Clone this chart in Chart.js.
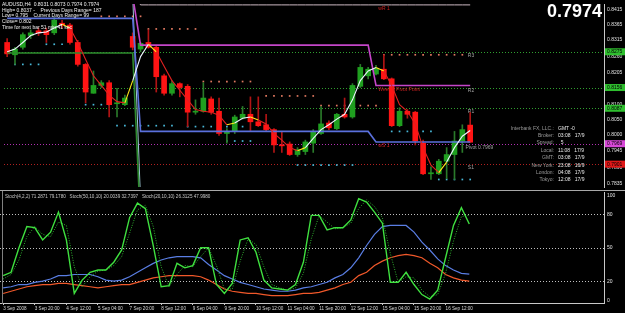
<!DOCTYPE html>
<html>
<head>
<meta charset="utf-8">
<title>AUDUSD,H4</title>
<script src="https://cdn.jsdelivr.net/npm/chart.js@4.4.1/dist/chart.umd.min.js"></script>
<style>
  html, body { margin: 0; padding: 0; background: #000; }
  body { width: 625px; height: 313px; overflow: hidden; position: relative; font-family: "Liberation Sans", Arial, sans-serif; }
  canvas { position: absolute; left: 0; }
  #priceChart { top: 0; }
  #stochChart { top: 191px; }
  .sep { position: absolute; left: 0; top: 190px; width: 625px; height: 1px; background: #a8a8a8; }
  .leftEdge { position: absolute; left: 2px; top: 191px; width: 1px; height: 113px; background: #808080; }
  .info { position: absolute; white-space: pre; color: #f0f0f0; font-size: 5px; line-height: 5.7px; }
  .bigPrice { position: absolute; left: 547px; top: 2px; color: #fff; font: bold 18px "Liberation Sans", Arial, sans-serif; line-height: 18px; }
  .clockLbl { position: absolute; left: 470px; width: 84px; text-align: right; white-space: pre; color: #9a9a9a; font-size: 5px; line-height: 7.4px; }
  .clockVal { position: absolute; left: 558px; white-space: pre; color: #e8e8e8; font-size: 5px; line-height: 7.4px; }
  .stochHead { position: absolute; left: 5px; top: 194px; white-space: pre; color: #c8c8c8; font-size: 4.6px; }
</style>
</head>
<body>
<canvas id="priceChart" width="625" height="191"></canvas>
<canvas id="stochChart" width="625" height="122"></canvas>
<div class="sep"></div>
<div class="leftEdge"></div>

<div class="info" style="left:2px;top:2px">AUDUSD,H4  0.8031 0.8073 0.7974 0.7974
High= 0.8037 -    Previous Days Range= 187
Low= 0.795    Current Days Range= 99
Close= 0.802
Time for next bar 51 min 41 sec</div>
<div class="bigPrice">0.7974</div>

<div class="clockLbl" style="top:124.5px">Interbank FX, LLC.:
Broker:
Spread:
Local:
GMT:
New York:
London:
Tokyo:</div>
<div class="clockVal" style="top:124.5px">GMT -0
03:08   17/9
  5
11:08   17/9
03:08   17/9
23:08   16/9
04:08   17/9
12:08   17/9</div>

<div class="stochHead">Stoch(4,2,2) 71.2871 79.1780   Stoch(50,10,10) 20.0039 32.7397   Stoch(20,10,10) 26.3125 47.9980</div>

<script>
// H4 candles, 3 Sep 04:00 .. 17 Sep 00:00
const opens  = [0.8306,0.8265,0.8290,0.8329,0.8345,0.8345,0.8338,0.8370,0.8364,0.8306,
                0.8233,0.8137,0.8163,0.8172,0.8102,0.8099,0.8326,0.8284,0.8306,0.8290,
                0.8195,0.8137,0.8169,0.8160,0.8074,0.8077,0.8118,0.8077,0.8003,0.8010,
                0.8054,0.8067,0.8042,0.8032,0.8016,0.7965,0.7968,0.7933,0.7943,0.7971,
                0.8003,0.8038,0.8019,0.8067,0.8058,0.8160,0.8195,0.8201,0.8217,0.8185,
                0.8029,0.8077,0.8074,0.7971,0.7869,0.7869,0.7911,0.7933,0.7978,0.8031];
const highs  = [0.8319,0.8290,0.8338,0.8348,0.8354,0.8354,0.8389,0.8380,0.8370,0.8313,
                0.8236,0.8211,0.8179,0.8179,0.8153,0.8131,0.8338,0.8306,0.8348,0.8294,
                0.8201,0.8179,0.8172,0.8166,0.8115,0.8172,0.8125,0.8121,0.8019,0.8064,
                0.8093,0.8125,0.8125,0.8067,0.8019,0.8010,0.7975,0.7956,0.7981,0.8016,
                0.8093,0.8045,0.8070,0.8121,0.8169,0.8233,0.8223,0.8230,0.8265,0.8188,
                0.8089,0.8083,0.8077,0.7981,0.7892,0.7917,0.7956,0.8010,0.8032,0.8073];
const lows   = [0.8259,0.8233,0.8284,0.8319,0.8329,0.8306,0.8332,0.8354,0.8300,0.8227,
                0.8105,0.8137,0.8156,0.8058,0.8058,0.8096,0.8281,0.8275,0.8287,0.8141,
                0.8131,0.8131,0.8125,0.8026,0.8067,0.8074,0.8067,0.7997,0.7971,0.8003,
                0.8051,0.8013,0.8026,0.8010,0.7940,0.7940,0.7930,0.7927,0.7933,0.7940,
                0.8000,0.8016,0.8016,0.8054,0.8054,0.8156,0.8185,0.8198,0.8182,0.8026,
                0.8026,0.8054,0.7965,0.7866,0.7850,0.7866,0.7853,0.7850,0.7940,0.7974];
const closes = [0.8268,0.8284,0.8332,0.8338,0.8338,0.8332,0.8380,0.8364,0.8306,0.8233,
                0.8141,0.8163,0.8172,0.8099,0.8105,0.8121,0.8290,0.8303,0.8290,0.8192,
                0.8137,0.8169,0.8156,0.8074,0.8077,0.8121,0.8074,0.8003,0.8010,0.8058,
                0.8067,0.8042,0.8029,0.8016,0.7965,0.7962,0.7933,0.7949,0.7975,0.8010,
                0.8035,0.8022,0.8067,0.8058,0.8163,0.8223,0.8217,0.8220,0.8185,0.8029,
                0.8077,0.8067,0.7978,0.7869,0.7872,0.7911,0.7933,0.7978,0.8016,0.7974];
// smoothed moving average drawn over the candles
const smoothMa = [0.8275,0.8284,0.8306,0.8329,0.8338,0.8341,0.8354,0.8367,0.8354,0.8306,
                  0.8249,0.8195,0.8163,0.8131,0.8109,0.8105,0.8179,0.8259,0.8300,0.8275,
                  0.8227,0.8179,0.8147,0.8115,0.8083,0.8077,0.8074,0.8064,0.8032,0.8038,
                  0.8054,0.8058,0.8048,0.8035,0.8003,0.7981,0.7956,0.7946,0.7956,0.7987,
                  0.8016,0.8032,0.8051,0.8067,0.8115,0.8179,0.8211,0.8223,0.8211,0.8163,
                  0.8099,0.8077,0.8035,0.7956,0.7898,0.7873,0.7908,0.7956,0.7994,0.8013];

// weekly levels: each week starts at these bars
const weekStart = [0, 17, 47];
const weeklyPivot = [0.8460, 0.8297, 0.8163];
const weeklyS1 = [0.8386, 0.8010, 0.7975];
const weeklyR1 = [0.8480, 0.8431, 0.8431];
const weeklyS2 = [0.8271, 0.7700, 0.7700];
const weeklyS3 = [0.8460, 0.7780, 0.7780];

// daily levels (dotted markers per day)
const resStart = [12, 18, 25, 33, 40, 48];
const resEnd   = [17, 24, 31, 39, 47, 58];
const resLevel = [0.8393, 0.8351, 0.8176, 0.8128, 0.8096, 0.8265];
const supStart = [1, 5, 10, 14, 23, 28, 37, 49, 55];
const supEnd   = [4, 7, 13, 21, 30, 31, 44, 54, 59];
const supLevel = [0.8233, 0.8300, 0.8099, 0.8029, 0.8026, 0.7978, 0.7898, 0.8010, 0.7850];

// today's pivot lines
const dayNames  = ['R3', 'R2', 'R1', 'Pivot', 'S1'];
const dayLevels = [0.8275, 0.8156, 0.8087, 0.7969, 0.7901];

const priceTicks = [0.8415, 0.8365, 0.8315, 0.8260, 0.8205, 0.8155, 0.8100, 0.8050, 0.8000, 0.7945, 0.7890, 0.7835];

// stochastics
const stochMain   = [25,28,50,69,68,57,64,82,57,9, 21,28,30,30,37,48,77,90,85,52,
                     15,16,36,32,34,50,50,17,9,18, 57,59,46,21,14,13,12,17,37,79,
                     79,66,68,68,75,94,91,82,72,19, 19,28,17,8,4,12,41,70,86,71.29];
const stochSignal = [22,26,39,60,69,62,60,73,70,33, 15,24,29,30,34,42,63,84,88,69,
                     33,15,26,34,33,42,50,34,13,13, 38,58,53,33,17,14,12,14,27,58,
                     79,73,67,68,72,85,93,87,77,45, 19,24,23,12,6,8,27,56,78,79.18];
const stochSlowA  = [14,15,17,17,19,20,22,25,25,26, 26,26,24,21,20,21,24,28,32,36,
                     39,41,42,42,42,41,35,30,25,22, 19,17,15,13,12,11,11,12,14,15,
                     17,19,23,26,32,41,52,62,69,70, 70,70,64,55,48,40,34,30,27,26.31];
const stochSlowB  = [9,11,13,15,16,17,17,18,18,17, 16,15,14,15,16,17,17,19,21,23,
                     24,25,25,25,25,24,21,17,13,11, 10,9,9,8,7,7,7,8,9,9,
                     10,12,14,17,19,25,28,34,38,41, 43,44,43,41,36,32,26,23,21,20.0];
const stochTicks  = [2.5, 20, 50, 80, 97];
const stochLabels = ['0', '20', '50', '80', '100'];

const timeLabels = ['3 Sep 2008', '3 Sep 20:00', '4 Sep 12:00', '5 Sep 04:00', '7 Sep 20:00',
                    '8 Sep 12:00', '9 Sep 04:00', '9 Sep 20:00', '10 Sep 12:00', '11 Sep 04:00',
                    '11 Sep 20:00', '12 Sep 12:00', '15 Sep 04:00', '15 Sep 20:00', '16 Sep 12:00'];
const labelBars = [0, 4, 8, 12, 16, 20, 24, 28, 32, 36, 40, 44, 48, 52, 56];

const xMin = -0.4, xMax = 76.05;
const priceMin = 0.7825, priceMax = 0.8434;
const FONT = 'Liberation Sans';

const bars = opens.map((_, i) => i);
const isUp = i => closes[i] >= opens[i];

function weekly(values) {
    return bars.map(i => {
        let k = 0;
        while (k + 1 < weekStart.length && i >= weekStart[k + 1]) k++;
        return { x: i, y: values[k] };
    });
}

function levelDots(starts, ends, levels) {
    const pts = [];
    starts.forEach((s, k) => {
        for (let i = s; i <= ends[k]; i++) pts.push({ x: i, y: levels[k] });
    });
    return pts;
}

// white going up, red going down, yellow on the first leg after a turn
function maColor(ctx) {
    const a = ctx.p0DataIndex, b = ctx.p1DataIndex;
    const d = smoothMa[b] - smoothMa[a];
    const prev = a > 0 ? smoothMa[a] - smoothMa[a - 1] : d;
    if (Math.sign(prev) !== Math.sign(d)) return '#ffe81a';
    return d >= 0 ? '#eef6ff' : '#e02020';
}

const lineDs = (data, color, width, order, extra) => Object.assign({
    type: 'line', data, borderColor: color, borderWidth: width, pointRadius: 0,
    tension: 0, order, spanGaps: false
}, extra || {});

// horizontal level lines, chart labels and axis price boxes
const pricePlugin = {
    id: 'pricePlugin',
    beforeDatasetsDraw(chart) {
        const { ctx, chartArea: a, scales: { x, y } } = chart;
        const colors = ['#2f9f2f', '#2f9f2f', '#2f9f2f', '#b030b0', '#b02020'];
        ctx.save();
        ctx.lineWidth = 1;
        ctx.setLineDash([1, 2]);
        dayLevels.forEach((v, k) => {
            const py = Math.round(y.getPixelForValue(v)) + 0.5;
            ctx.strokeStyle = colors[k];
            ctx.beginPath();
            ctx.moveTo(a.left, py);
            ctx.lineTo(a.right, py);
            ctx.stroke();
        });
        ctx.setLineDash([]);

        ctx.font = '5px "' + FONT + '"';
        ctx.textBaseline = 'top';
        ctx.fillStyle = '#a0a0a0';
        ['R3', 'R2', 'R1', 'S1'].forEach(n => {
            const v = dayLevels[dayNames.indexOf(n)];
            ctx.fillText(n, x.getPixelForValue(58.7), y.getPixelForValue(v) + 1);
        });
        ctx.fillText('Pivot ' + dayLevels[3].toFixed(4), x.getPixelForValue(58.4), y.getPixelForValue(dayLevels[3]) + 1.5);

        ctx.fillStyle = '#c82020';
        const wx = x.getPixelForValue(47.3);
        ctx.fillText('wR 1', wx, y.getPixelForValue(weeklyR1[2]) + 1.5);
        ctx.fillText('Weekly Pivot Point', wx, y.getPixelForValue(weeklyPivot[2]) + 1.5);
        ctx.fillText('wS 1', wx, y.getPixelForValue(weeklyS1[2]) + 1.5);
        ctx.restore();
    },
    afterDraw(chart) {
        const { ctx, chartArea: a, scales: { y } } = chart;
        const boxColors = ['#2fbf2f', '#2fbf2f', '#2fbf2f', '#d848d8', '#e01818'];
        ctx.save();
        ctx.font = '5px "' + FONT + '"';
        ctx.textBaseline = 'middle';
        dayLevels.forEach((v, k) => {
            const py = y.getPixelForValue(v);
            ctx.fillStyle = boxColors[k];
            ctx.fillRect(a.right + 1, py - 3.5, 20, 7);
            ctx.fillStyle = '#000';
            ctx.fillText(v.toFixed(4), a.right + 3, py);
        });
        ctx.restore();
    }
};

new Chart(document.getElementById('priceChart'), {
    type: 'bar',
    data: {
        datasets: [
            lineDs(smoothMa.map((v, i) => ({ x: i, y: v })), '#fff', 1.1, 0, { segment: { borderColor: maColor } }),
            lineDs(weekly(weeklyPivot), '#c446c8', 1.6, 1),
            lineDs(weekly(weeklyS1), '#5a70dc', 1.6, 1),
            lineDs(weekly(weeklyR1), '#cdb9c2', 1, 1),
            lineDs(weekly(weeklyS2), '#2e8a2e', 1.6, 1),
            lineDs(weekly(weeklyS3), '#9fc6d4', 1, 1),
            {
                type: 'bar', order: 3, grouped: false, barThickness: 5, minBarLength: 1,
                data: bars.map(i => ({ x: i, y: [opens[i], closes[i]] })),
                backgroundColor: bars.map(i => isUp(i) ? '#1f9f1f' : '#ff1414'),
                borderWidth: 0
            },
            {
                type: 'bar', order: 4, grouped: false, barThickness: 1,
                data: bars.map(i => ({ x: i, y: [lows[i], highs[i]] })),
                backgroundColor: bars.map(i => isUp(i) ? '#2a7a2a' : '#b01414'),
                borderWidth: 0
            },
            lineDs(levelDots(resStart, resEnd, resLevel), '#f08060', 0, 5,
                { showLine: false, pointRadius: 1.2, pointStyle: 'rect', pointBackgroundColor: '#e07860', pointBorderWidth: 0 }),
            lineDs(levelDots(supStart, supEnd, supLevel), '#48c0e0', 0, 5,
                { showLine: false, pointRadius: 1.2, pointStyle: 'rect', pointBackgroundColor: '#48b8d8', pointBorderWidth: 0 })
        ]
    },
    options: {
        responsive: false,
        animation: false,
        events: [],
        layout: { padding: 0 },
        plugins: { legend: { display: false }, tooltip: { enabled: false } },
        scales: {
            x: { type: 'linear', min: xMin, max: xMax, offset: false, display: false },
            y: {
                position: 'right', min: priceMin, max: priceMax,
                grid: { display: false, drawTicks: false },
                border: { display: true, color: '#c8c8c8' },
                afterBuildTicks: s => { s.ticks = priceTicks.map(v => ({ value: v })); },
                afterFit: s => { s.width = 21; s.paddingTop = 0; s.paddingBottom = 0; },
                ticks: {
                    autoSkip: false, padding: 3, color: '#e0e0e0',
                    font: { size: 5, family: FONT },
                    callback: v => v.toFixed(4)
                }
            }
        }
    },
    plugins: [pricePlugin]
});

// dotted 20 / 50 / 80 lines in the oscillator window
const stochPlugin = {
    id: 'stochPlugin',
    beforeDatasetsDraw(chart) {
        const { ctx, chartArea: a, scales: { y } } = chart;
        ctx.save();
        ctx.strokeStyle = '#c0c0c0';
        ctx.lineWidth = 1;
        ctx.setLineDash([1, 2]);
        [20, 50, 80].forEach(v => {
            const py = Math.round(y.getPixelForValue(v)) + 0.5;
            ctx.beginPath();
            ctx.moveTo(a.left, py);
            ctx.lineTo(a.right, py);
            ctx.stroke();
        });
        ctx.restore();
    }
};

const toPts = arr => arr.map((v, i) => ({ x: i, y: v }));

new Chart(document.getElementById('stochChart'), {
    type: 'line',
    data: {
        datasets: [
            lineDs(toPts(stochMain), '#3fe03f', 1.4, 0),
            lineDs(toPts(stochSignal), '#2fb02f', 1, 1, { borderDash: [1, 1.5] }),
            lineDs(toPts(stochSlowA), '#5a7ee4', 1.2, 2),
            lineDs(toPts(stochSlowB), '#f0582a', 1.2, 2)
        ]
    },
    options: {
        responsive: false,
        animation: false,
        events: [],
        layout: { padding: { top: 1 } },
        plugins: { legend: { display: false }, tooltip: { enabled: false } },
        scales: {
            x: {
                type: 'linear', min: xMin, max: xMax, offset: false,
                grid: { display: true, drawOnChartArea: false, tickLength: 1.5, color: '#c8c8c8' },
                border: { display: true, color: '#c8c8c8' },
                afterBuildTicks: s => { s.ticks = labelBars.map(v => ({ value: v })); },
                afterFit: s => { s.height = 9.5; s.paddingLeft = 0; s.paddingRight = 0; },
                ticks: {
                    autoSkip: false, maxRotation: 0, align: 'start', padding: 0.5,
                    color: '#d8d8d8', font: { size: 4.6, family: FONT },
                    callback: (v, idx) => timeLabels[idx]
                }
            },
            y: {
                position: 'right', min: 0, max: 100,
                grid: { display: false, drawTicks: false },
                border: { display: true, color: '#c8c8c8' },
                afterBuildTicks: s => { s.ticks = stochTicks.map(v => ({ value: v })); },
                afterFit: s => { s.width = 21; s.paddingTop = 0; s.paddingBottom = 0; },
                ticks: {
                    autoSkip: false, padding: 3, color: '#e0e0e0',
                    font: { size: 5, family: FONT },
                    callback: (v, idx) => stochLabels[idx]
                }
            }
        }
    },
    plugins: [stochPlugin]
});
</script>
</body>
</html>
